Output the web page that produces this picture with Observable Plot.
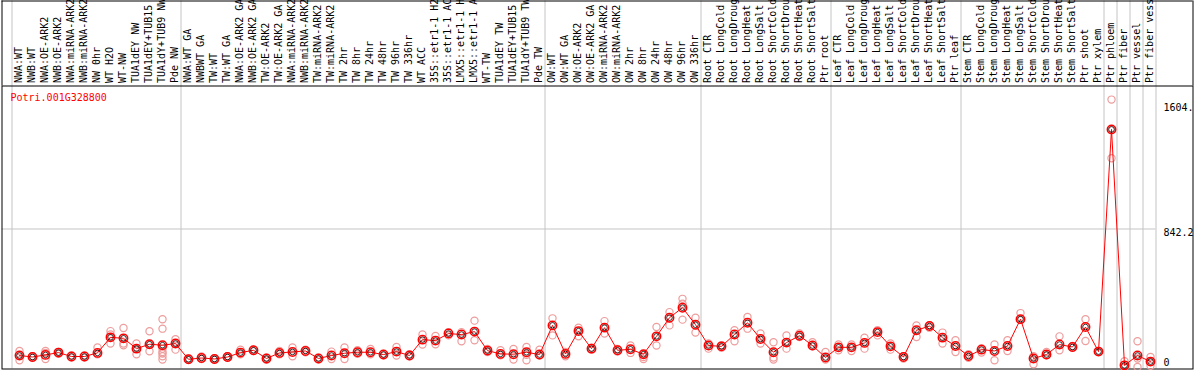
<!DOCTYPE html>
<html><head><meta charset="utf-8">
<script src="https://cdn.jsdelivr.net/npm/d3@7"></script>
<script src="https://cdn.jsdelivr.net/npm/@observablehq/plot@0.6"></script>
<style>body{margin:0;background:#fff} svg{display:block}</style>
</head><body><div id="chart"></div>
<script>
const geneId = "Potri.001G328800";
const samples = [
 "NWA:WT","NWB:WT","NWA:OE-ARK2","NWB:OE-ARK2","NWA:miRNA-ARK2","NWB:miRNA-ARK2","NW 0hr","WT H2O","WT-NW","TUA1dEY NW","TUA1dEY+TUB15 NW","TUA1dY+TUB9 NW","Pde NW",
 "NWA:WT GA","NWBWT GA","TW:WT","TW:WT GA","NWA:OE-ARK2 GA","NWB:OE-ARK2 GA","TW:OE-ARK2","TW:OE-ARK2 GA","NWA:miRNA-ARK2","NWB:miRNA-ARK2 GA","TW:miRNA-ARK2","TW:miRNA-ARK2 GA",
 "TW 2hr","TW 8hr","TW 24hr","TW 48hr","TW 96hr","TW 336hr","WT ACC","35S::etr1-1 H2O","35S::etr1-1 ACC","LMX5::etr1-1 H2O","LMX5::etr1-1 ACC","WT-TW","TUA1dEY TW","TUA1dEY+TUB15 TW","TUA1dY+TUB9 TW","Pde TW",
 "OW:WT","OW:WT GA","OW:OE-ARK2","OW:OE-ARK2 GA","OW:miRNA-ARK2","OW:miRNA-ARK2 GA","OW 2hr","OW 8hr","OW 24hr","OW 48hr","OW 96hr","OW 336hr",
 "Root CTR","Root LongCold","Root LongDrought","Root LongHeat","Root LongSalt","Root ShortCold","Root ShortDrought","Root ShortHeat","Root ShortSalt","Ptr root",
 "Leaf CTR","Leaf LongCold","Leaf LongDrought","Leaf LongHeat","Leaf LongSalt","Leaf ShortCold","Leaf ShortDrought","Leaf ShortHeat","Leaf ShortSalt","Ptr leaf",
 "Stem CTR","Stem LongCold","Stem LongDrought","Stem LongHeat","Stem LongSalt","Stem ShortCold","Stem ShortDrought","Stem ShortHeat","Stem ShortSalt","Ptr shoot","Ptr xylem",
 "Ptr phloem","Ptr fiber","Ptr vessel","Ptr fiber vessel"
];
const means = [
 70,61,74,88,64,64,86,181,175,112,139,133,143,
 47,55,49,61,88,102,52,86,92,98,52,70,
 84,90,90,76,94,70,167,161,204,198,216,100,80,78,90,76,
 254,80,219,112,240,102,108,78,187,301,362,258,
 131,126,198,270,171,90,149,191,131,58,
 120,120,147,213,126,61,224,250,179,128,
 67,106,98,128,292,52,76,137,122,244,94,
 1450,10,70,33
];
const replicates = [
 [98,41,70],[66,56],[98,86,49],[92,80],[70,58],[70,58],[119,78],[219,199,143],[238,143,133],[143,112,78],[218,139,96],[291,234,112,92,82,66,46],[169,143,106],
 [50,44],[64,49],[52,44],[66,56],[106,78],[106,98],[56,44],[98,78],[119,66],[106,90],[56,46],[94,49],
 [119,49],[102,80],[110,78],[80,72],[122,70],[78,66],[198,137],[189,139],[212,193],[213,157],[283,163],[110,92],[102,72],[110,46],[122,74,41],[106,70],
 [297,193],[92,66],[240,187],[118,106],[280,204],[110,94],[131,86],[78,61,49],[244,131],[335,254],[416,386,289],[301,210],
 [143,112],[133,118],[224,157],[305,234],[204,143],[151,58,46],[193,112],[204,183],[151,126],[92,46],
 [137,102],[137,98],[179,112],[224,193],[143,106],[66,52],[254,183],[254,240],[210,143],[163,92],
 [78,56],[115,88],[137,41],[163,98],[329,289],[66,17],[92,72],[187,102],[128,118],[291,159],[94],
 [1632,1450,1274],[35,0,0],[157,52,0],[61,31,7]
];
const groupStarts = [0,13,41,53,63,73,84,85,86,87,88];
const yTickValues = [842.2, 1604];
const yTickLabels = ["842.2", "1604."];
const yZeroLabel = "0";

const rows = samples.map((s, i) => ({i, sample: s, mean: means[i]}));
const reps = replicates.flatMap((r, i) => r.map(v => ({i, value: v})));

const W = 1194, H = 370;
const mTop = 85.5, mBottom = 1.5, mLeft = 1.5, mRight = 1.5;
const xDomain = [-17.5/13, 1173.5/13];
const yDomain = [-12.2, 1714.9];
const yPerPx = (yDomain[1] - yDomain[0]) / (H - mBottom - mTop);
const yHeaderTop = yDomain[1] + yPerPx * (mTop - 0.5);
const half = 7.5/13;
const font = "DejaVu Sans Mono, monospace";
const grid = "#c4c4c4";

const chart = Plot.plot({
  width: W, height: H,
  marginTop: mTop, marginBottom: mBottom, marginLeft: mLeft, marginRight: mRight,
  x: {domain: xDomain, axis: null},
  y: {domain: yDomain, axis: null},
  style: {fontFamily: font, fontSize: "10px", background: "white"},
  marks: [
    Plot.ruleX(groupStarts, {x: d => d - half, y1: yDomain[0], y2: yHeaderTop, stroke: grid, strokeWidth: 1}),
    Plot.ruleY(yTickValues.slice(0,1), {x1: xDomain[0], x2: 88 - half, stroke: grid, strokeWidth: 1}),
    Plot.frame({stroke: "black"}),
    Plot.ruleY([yHeaderTop], {x1: xDomain[0], x2: xDomain[1], stroke: "black"}),
    Plot.ruleX(xDomain, {y1: yDomain[1], y2: yHeaderTop, stroke: "black"}),
    Plot.text(rows, {x: "i", text: "sample", frameAnchor: "top", dy: -3, dx: -0.5, rotate: -90,
      textAnchor: "start", lineAnchor: "middle", fill: "black", fontFamily: font, fontSize: 10}),
    Plot.dot(reps, {x: "i", y: "value", r: 3.6, stroke: "#ee9c9c", strokeWidth: 1.2}),
    Plot.line(rows, {x: "i", y: "mean", stroke: "#ff0000", strokeWidth: 1}),
    Plot.dot(rows, {x: "i", y: "mean", r: 4.2, stroke: "#ff0000", strokeWidth: 1.5}),
    Plot.dot(rows, {x: "i", y: "mean", r: 2.8, stroke: "#000", strokeWidth: 0.8}),
    Plot.text([geneId], {frameAnchor: "top-left", dx: 8.5, dy: 7.5, text: d => d, fill: "#ff0000",
      textAnchor: "start", lineAnchor: "top", fontFamily: font, fontSize: 10}),
    Plot.text(yTickValues, {x: 88, y: d => d, text: (d, i) => yTickLabels[i], textAnchor: "start",
      lineAnchor: "top", fill: "black", fontFamily: font, fontSize: 10}),
    Plot.text([0], {x: 88, y: d => d, text: () => yZeroLabel, textAnchor: "start",
      lineAnchor: "bottom", dy: -1.5, fill: "black", fontFamily: font, fontSize: 10})
  ]
});
document.getElementById("chart").appendChild(chart);
</script>
</body></html>
